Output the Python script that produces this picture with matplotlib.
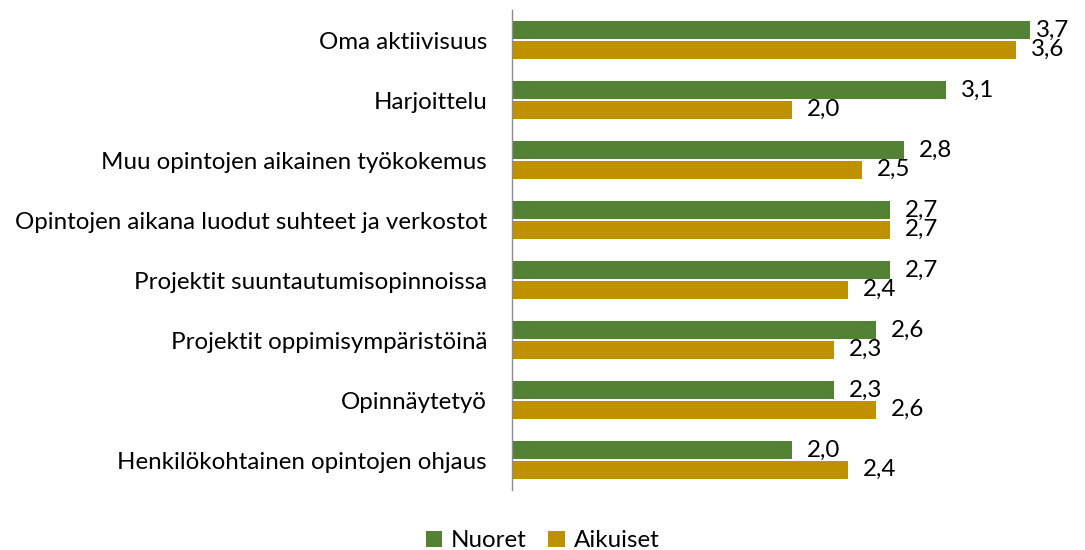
import matplotlib.pyplot as plt
import numpy as np

green = '#548235'
gold = '#BF9000'

categories = ['Oma aktiivisuus',
              'Harjoittelu',
              'Muu opintojen aikainen työkokemus',
              'Opintojen aikana luodut suhteet ja verkostot',
              'Projektit suuntautumisopinnoissa',
              'Projektit oppimisympäristöinä',
              'Opinnäytetyö',
              'Henkilökohtainen opintojen ohjaus']
nuoret = [3.7, 3.1, 2.8, 2.7, 2.7, 2.6, 2.3, 2.0]
aikuiset = [3.6, 2.0, 2.5, 2.7, 2.4, 2.3, 2.6, 2.4]

plt.rcParams['font.family'] = ['Lato', 'DejaVu Sans']
fs = 17.4

fig = plt.figure(figsize=(10.85, 5.5), dpi=100)
ax = fig.add_axes([0.4719, 0.109, 0.516, 0.8727])

y = np.arange(len(categories))
h = 0.3
ax.barh(y - 0.16, nuoret, h, color=green, label='Nuoret')
ax.barh(y + 0.16, aikuiset, h, color=gold, label='Aikuiset')

xmax = 4.0
label_limit = 3.98
for vals, off in ((nuoret, -0.16), (aikuiset, 0.16)):
    for i, v in enumerate(vals):
        txt = ('%.1f' % v).replace('.', ',')
        # keep labels inside the chart area like Excel does
        if v > 3.65:
            ax.text(label_limit, i + off, txt, ha='right', va='center', fontsize=fs)
        else:
            ax.annotate(txt, (v, i + off), xytext=(11, 0), textcoords='offset points',
                        ha='left', va='center', fontsize=fs)

ax.set_xlim(0, xmax)
ax.set_ylim(len(categories) - 0.5, -0.5)
ax.set_yticks(y)
ax.set_yticklabels(categories, fontsize=fs)
ax.tick_params(axis='y', length=0, pad=18)
ax.set_xticks([])
for s in ['top', 'right', 'bottom']:
    ax.spines[s].set_visible(False)
ax.spines['left'].set_color('#8c8c8c')
ax.spines['left'].set_linewidth(1)

fig.legend(loc='center', bbox_to_anchor=(0.5, 0.0164), ncol=2, frameon=False,
           fontsize=fs, handlelength=0.7, handleheight=0.7, handletextpad=0.35,
           columnspacing=0.9)

plt.savefig('out.png', dpi=100)
